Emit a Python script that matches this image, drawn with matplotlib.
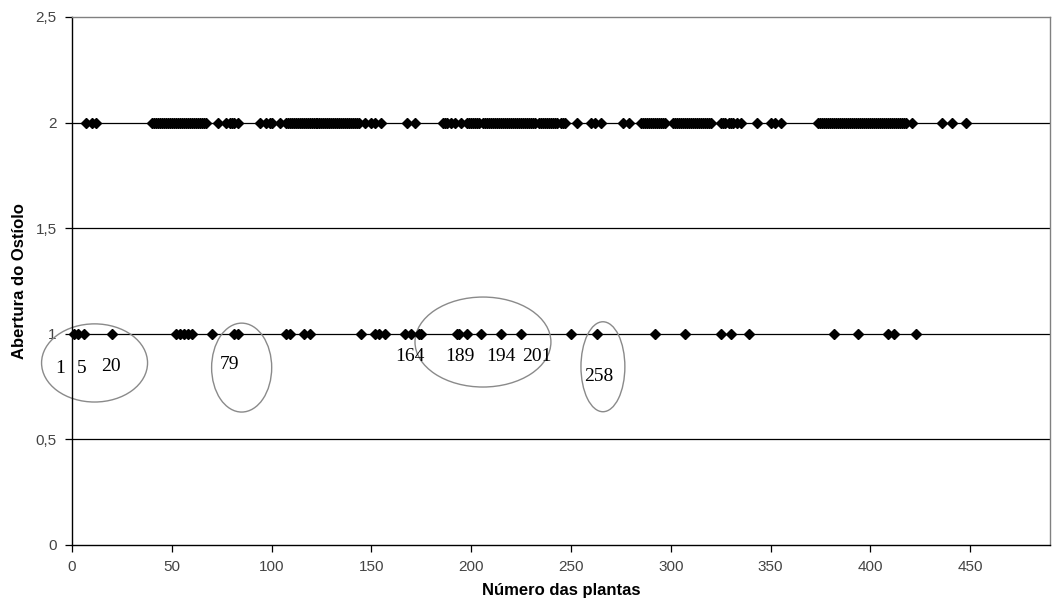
import matplotlib.pyplot as plt
from matplotlib.patches import Ellipse
import numpy as np

# plants with ostiole opening = 2
aberta_2 = [
    7, 10, 12,
    40, 41, 42, 43, 44, 45, 46, 47, 48, 49, 50, 51, 52, 53, 54, 55, 56, 57, 58,
    59, 60, 61, 62, 63, 64, 65, 66, 67,
    73, 77, 79, 80, 81, 83,
    94, 97, 99, 100, 104, 107, 108, 109, 110, 111, 112, 113, 114,
    115, 116, 117, 118, 119, 120, 121, 122, 123, 124, 125, 126, 127, 128, 129,
    130, 131, 132, 133, 134, 135, 136, 137, 138, 139, 140, 141, 142, 143, 144,
    147, 150, 152, 155, 168, 172,
    186, 187, 188, 190, 192, 195,
    198, 199, 200, 201, 202, 203, 204, 206, 207, 208, 209, 210, 211, 212, 213,
    214, 215, 216, 217, 218, 219, 220, 221, 222, 223, 224, 225, 226, 227, 228,
    229, 230, 231, 232, 234, 235, 236, 237, 238, 239, 240, 241, 242, 243, 245,
    246, 247,
    253, 260, 262, 265, 276, 279,
    285, 286, 287, 288, 289, 290, 291, 292, 293, 294, 295, 296, 297,
    301, 302, 303, 304, 305, 306, 307, 308, 309, 310, 311, 312, 313, 314, 315,
    316, 317, 318, 319, 320,
    325, 326, 327, 329, 330, 331, 333, 335,
    343, 350, 352, 355,
    374, 375, 376, 377, 378, 379, 380, 381, 382, 383, 384, 385, 386, 387, 388,
    389, 390, 391, 392, 393, 394, 395, 396, 397, 398, 399, 400, 401, 402, 403,
    404, 405, 406, 407, 408, 409, 410, 411, 412, 413, 414, 415, 416, 417, 418,
    421, 436, 441, 448,
]

# plants with ostiole opening = 1
aberta_1 = [
    1, 3, 6, 20, 52, 54, 56, 58, 60, 70, 81, 83, 107, 109, 116, 119,
    145, 152, 154, 157, 167, 170, 174, 175, 193, 194, 198, 205, 215, 225,
    250, 263, 292, 307, 325, 330, 339, 382, 394, 409, 412, 423,
]

destaques = ["1", "5", "20", "79", "164", "189", "194", "201", "258"]
# label anchor positions (x, y) in data units
destaque_pos = [(-5.7, 0.837), (4.9, 0.837), (19.4, 0.844), (78.8, 0.856),
                (169.3, 0.892), (194.4, 0.892), (214.8, 0.892), (232.8, 0.892),
                (263.7, 0.797)]
# ellipses: (cx, cy, w, h) in data units
elipses = [(11.3, 0.862, 53.1, 0.37), (85.0, 0.840, 30.1, 0.421),
           (205.9, 0.961, 68.1, 0.426), (266.0, 0.844, 22.0, 0.426)]

plt.rcParams["font.family"] = ["Liberation Sans", "DejaVu Sans"]

fig = plt.figure(figsize=(10.55, 6.13), dpi=100)
ax = fig.add_axes([72 / 1055, 68 / 613, 978 / 1055, 528 / 613])

for yv in [0.5, 1.0, 1.5, 2.0]:
    ax.axhline(yv, color="black", lw=0.9, zorder=1)

ax.plot(aberta_2, np.full(len(aberta_2), 2.0), ls="none", marker="D",
        ms=5.2, color="black", zorder=3, clip_on=False)
ax.plot(aberta_1, np.full(len(aberta_1), 1.0), ls="none", marker="D",
        ms=5.2, color="black", zorder=3, clip_on=False)

for (cx, cy, w, h) in elipses:
    ax.add_patch(Ellipse((cx, cy), w, h, fill=False, edgecolor="#8a8a8a",
                         lw=1.0, clip_on=False, zorder=2))

for txt, (tx, ty) in zip(destaques, destaque_pos):
    ax.text(tx, ty, txt, ha="center", va="center", fontsize=14,
            family=["Liberation Serif", "DejaVu Serif"], color="black")

ax.set_xlim(0, 490)
ax.set_ylim(0, 2.5)
ax.set_xticks(np.arange(0, 451, 50))
ax.set_yticks([0, 0.5, 1, 1.5, 2, 2.5])
ax.set_yticklabels(["0", "0,5", "1", "1,5", "2", "2,5"])
ax.tick_params(direction="out", length=5, width=0.9, labelsize=11,
               labelcolor="#444444", pad=6)

for s in ["left", "bottom"]:
    ax.spines[s].set_color("black")
    ax.spines[s].set_linewidth(1.0)
for s in ["top", "right"]:
    ax.spines[s].set_color("#808080")
    ax.spines[s].set_linewidth(1.0)

ax.set_xlabel("Número das plantas", fontsize=12, fontweight="bold", labelpad=6)
ax.set_ylabel("Abertura do Ostíolo", fontsize=12, fontweight="bold", labelpad=6)

fig.savefig("out.png", dpi=100)
